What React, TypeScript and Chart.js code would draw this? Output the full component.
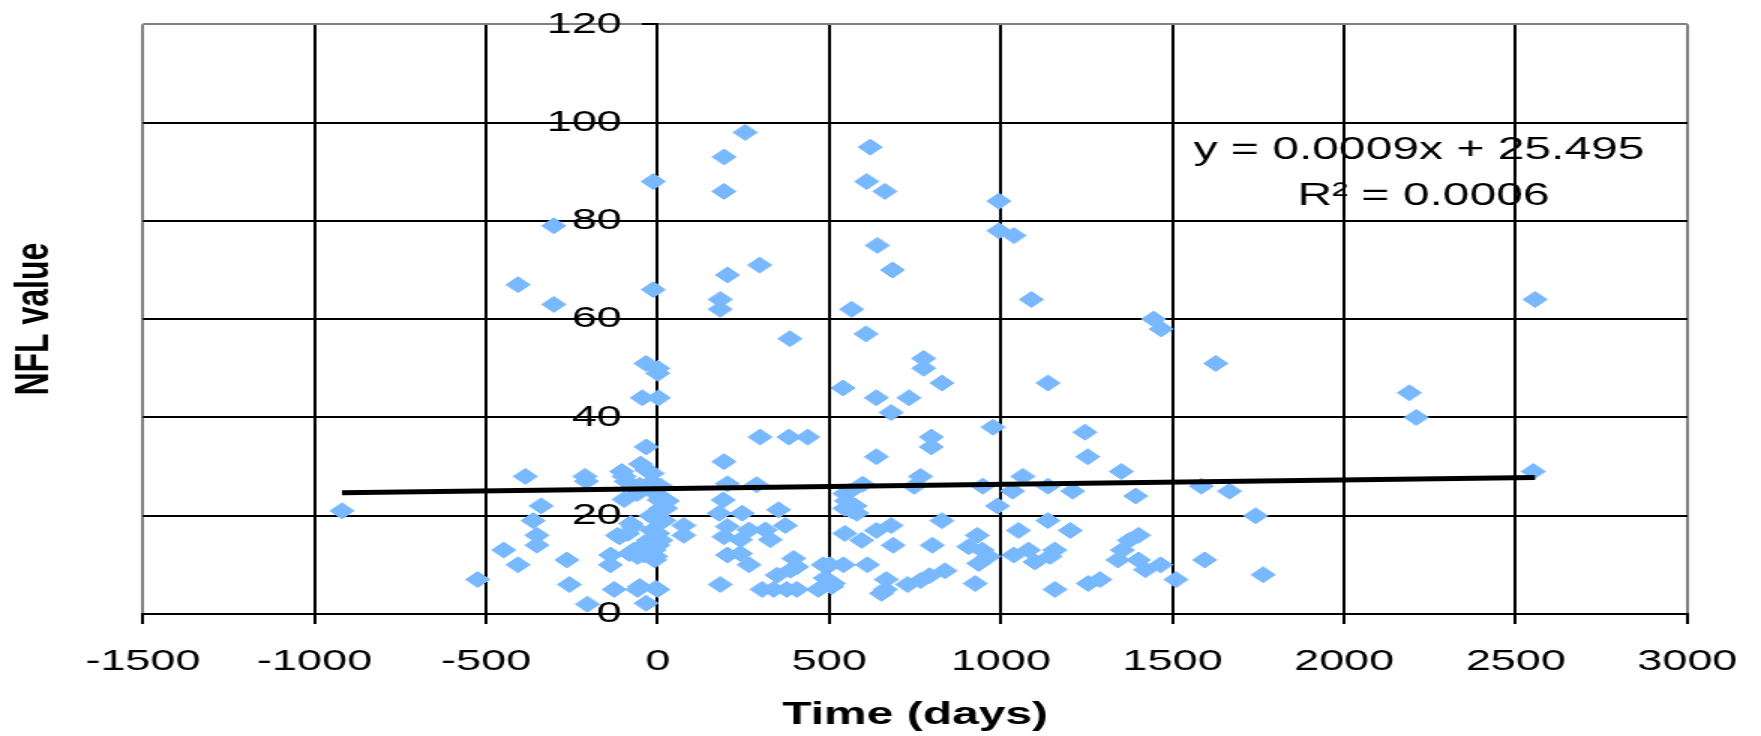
import React, { useEffect, useRef } from 'react';
import { Chart, registerables } from 'chart.js';

Chart.register(...registerables);

// ---- data ----
const timeDays: number[] = [
  -920, -525, -449, -407, -407, -386, -303, -303, -340, -363, -352, -352, -265, -257, -205, -212, -208,
  -137, -138, -127, -117,
  -13, -13, -34, 0, 0, -45, 2, -34, -105, -98, -92, -50, -32, -16, -53, -16, 9, -98, -60, -6, 4, 18,
  28, 23, 9, -20, 0, 18, -79, -72, -16, -88, 0, -111, 9, -27, -30, 0, -54, -69, -11, -66, -40, -83,
  -59, -6, -9, -53, -59, -6, 0, -34, 76, 76,
  182, 182, 193, 193, 203, 255, 297, 385, 298, 382, 437, 193, 203, 288, 191, 352, 179, 246, 203, 266,
  314, 372, 193, 241, 328, 203, 241, 266, 396, 405, 348, 387, 182, 304, 338, 376, 405, 468, 482, 488,
  507,
  565, 609, 619, 662, 640, 684, 607, 540, 637, 732, 680, 775, 775, 828, 797, 797, 637, 766, 747, 597,
  545, 560, 550, 575, 545, 580, 565, 545, 594, 637, 680, 686, 502, 541, 512, 611, 666, 652, 663, 728,
  766, 792, 837, 828, 800, 977, 947, 990, 994, 994, 931, 906, 945, 964, 935, 925,
  1038, 1089, 1137, 1245, 1253, 1064, 1034, 1137, 1209, 1351, 1393, 1445, 1467, 1137, 1051, 1202,
  1037, 1080, 1099, 1157, 1143, 1157, 1254, 1288, 1341, 1354, 1374, 1401, 1401, 1421, 1465, 1510,
  1584, 1626, 1666, 1594, 1742, 1764, 2190, 2210, 2556, 2551,
];
const nflValues: number[] = [
  21, 7, 13, 10, 67, 28, 79, 63, 22, 19, 16, 14, 11, 6, 2, 28, 27,
  12, 10, 5, 16,
  88, 66, 51, 50, 49, 44, 44, 34, 29, 28, 27, 30.5, 29.3, 28.6, 26.2, 26.9, 26, 23.3, 24.5, 24.5, 23.2, 23.5,
  23, 21.5, 21.5, 20, 19, 19, 18.4, 17.8, 17, 16.4, 16.4, 15.7, 15, 15, 14.4, 14, 13.4, 13, 13, 12.7, 12, 12.3,
  11.7, 11.7, 11, 5.6, 5, 5.2, 5, 2.2, 18, 16,
  64, 62, 93, 86, 69, 98, 71, 56, 36, 36, 36, 31, 26.5, 26.3, 23.2, 21.2, 20.5, 20.5, 17.8, 17.1,
  17.1, 18, 15.7, 15.1, 15.1, 12, 12.3, 10, 11.3, 9.6, 7.9, 8.9, 6, 5, 5, 5, 5, 5, 10, 7.3,
  5.6,
  62, 88, 95, 86, 75, 70, 57, 46, 44, 44, 41, 52, 50, 47, 36, 34, 32, 28, 26, 26.4,
  24.5, 25, 23, 22, 21.5, 20.5, 21, 16.4, 15, 17, 18, 14, 10, 10, 6.2, 10, 7, 4.2, 5, 6,
  6.8, 7.8, 8.8, 19, 14, 38, 26, 22, 84, 78, 16, 13.7, 13, 11.7, 10.3, 6.2,
  77, 64, 47, 37, 32, 28, 25, 26, 25, 29, 24, 60, 58, 19, 17, 17,
  12, 13, 10.6, 13, 11.7, 5, 6.2, 7, 11, 13, 15, 16, 11, 9, 10, 7,
  26, 51, 25, 11, 20, 8, 45, 40, 64, 29,
];
// linear trend line end points (y = 0.0009x + 25.495)
const trendX: number[] = [-920, 2556];
const trendY: number[] = [24.67, 27.8];
const xTickValues: number[] = [-1500, -1000, -500, 0, 500, 1000, 1500, 2000, 2500, 3000];
const yTickValues: number[] = [0, 20, 40, 60, 80, 100, 120];
const equationLines: string[] = ['y = 0.0009x + 25.495', 'R\u00B2 = 0.0006'];
const xTitle = 'Time (days)';
const yTitle = 'NFL value';

// ---- styling ----
const FONT = '"Liberation Sans", Arial, sans-serif';
const POINT_COLOR = '#78B8FF';
const FRAME_GRAY = '#808080';
const CANVAS_W = 1174;
const CANVAS_H = 736;
const Y_LABEL_GAP = 24;

export default function App() {
  const ref = useRef<HTMLCanvasElement | null>(null);

  useEffect(() => {
    document.body.style.margin = '0';
    document.body.style.overflow = 'hidden';
    const canvas = ref.current;
    if (!canvas) return;

    const equationPlugin = {
      id: 'equationLabel',
      beforeDraw(chart: any) {
        // keep the y labels to the left of the crossing axis (tick + gap)
        const ys = chart.scales.y;
        const items = ys.getLabelItems(chart.chartArea);
        items.forEach((it: any) => {
          if (!it.__shifted) {
            it.options.translation[0] -= Y_LABEL_GAP;
            it.__shifted = true;
          }
        });
      },
      afterDatasetsDraw(chart: any) {
        const ctx = chart.ctx;
        ctx.save();
        ctx.fillStyle = '#000';
        ctx.font = `32px ${FONT}`;
        ctx.textAlign = 'center';
        ctx.textBaseline = 'middle';
        ctx.fillText(equationLines[0], 946, 150);
        ctx.fillText(equationLines[1], 949, 196);
        ctx.restore();
      },
    };

    const xMin = xTickValues[0];
    const xMax = xTickValues[xTickValues.length - 1];
    const yMin = yTickValues[0];
    const yMax = yTickValues[yTickValues.length - 1];
    const noPad = (s: any) => {
      s.paddingLeft = 0;
      s.paddingRight = 0;
      s.paddingTop = 0;
      s.paddingBottom = 0;
    };

    const chart = new Chart(canvas, {
      type: 'scatter',
      data: {
        datasets: [
          {
            type: 'line',
            label: 'Linear trend',
            data: trendX.map((x, i) => ({ x, y: trendY[i] })),
            borderColor: '#000',
            borderWidth: 5,
            pointRadius: 0,
            fill: false,
            order: 0,
          } as any,
          {
            type: 'scatter',
            label: 'NFL',
            data: timeDays.map((x, i) => ({ x, y: nflValues[i] })),
            pointStyle: 'rectRot',
            pointRadius: 8,
            backgroundColor: POINT_COLOR,
            borderColor: POINT_COLOR,
            borderWidth: 1,
            order: 1,
          } as any,
        ],
      },
      options: {
        responsive: false,
        maintainAspectRatio: false,
        animation: false,
        devicePixelRatio: 1,
        events: [],
        layout: { padding: { left: 0, right: 49.1, top: 24.3, bottom: 0 } },
        plugins: {
          legend: { display: false },
          tooltip: { enabled: false },
          title: { display: false },
        },
        scales: {
          x: {
            type: 'linear',
            position: 'bottom',
            min: xMin,
            max: xMax,
            afterBuildTicks: (s: any) => {
              s.ticks = xTickValues.map((v) => ({ value: v }));
            },
            ticks: {
              autoSkip: false,
              maxRotation: 0,
              color: '#000',
              padding: 20,
              font: { family: FONT, size: 30 },
              callback: (v: any) => String(v),
            },
            grid: {
              color: (c: any) =>
                c.tick && (c.tick.value === xMin || c.tick.value === xMax) ? FRAME_GRAY : '#000',
              lineWidth: 2,
              tickColor: '#000',
              tickLength: 10,
              tickWidth: 2,
            },
            border: { color: '#000', width: 2 },
            title: {
              display: true,
              text: xTitle,
              color: '#000',
              font: { family: FONT, size: 32, weight: 'bold' },
              padding: { top: 0, bottom: 1.2 },
            },
            afterFit: (s: any) => {
              s.height = 122;
              noPad(s);
            },
          },
          y: {
            type: 'linear',
            position: { x: 0 } as any,
            min: yMin,
            max: yMax,
            afterBuildTicks: (s: any) => {
              s.ticks = yTickValues.map((v) => ({ value: v }));
            },
            ticks: {
              color: '#000',
              padding: 0,
              font: { family: FONT, size: 30 },
              callback: (v: any) => String(v),
            },
            grid: {
              color: (c: any) => (c.tick && c.tick.value === yMax ? FRAME_GRAY : '#000'),
              lineWidth: 2,
              tickColor: '#000',
              tickLength: 9,
              tickWidth: 2,
            },
            border: { color: '#000', width: 2 },
            afterFit: (s: any) => noPad(s),
          },
          y2: {
            type: 'linear',
            axis: 'y',
            position: 'left',
            grid: { display: false },
            border: { display: false },
            ticks: { display: false },
            title: {
              display: true,
              text: yTitle,
              color: '#000',
              font: { family: FONT, size: 32, weight: 'bold' },
              padding: { top: 3.5, bottom: 0 },
            },
            afterFit: (s: any) => {
              s.width = 95.3;
              noPad(s);
            },
          } as any,
        },
      } as any,
      plugins: [equationPlugin],
    });

    return () => chart.destroy();
  }, []);

  return (
    <canvas
      ref={ref}
      width={CANVAS_W}
      height={CANVAS_H}
      style={{ display: 'block', width: '1761px', height: '736px' }}
    />
  );
}
